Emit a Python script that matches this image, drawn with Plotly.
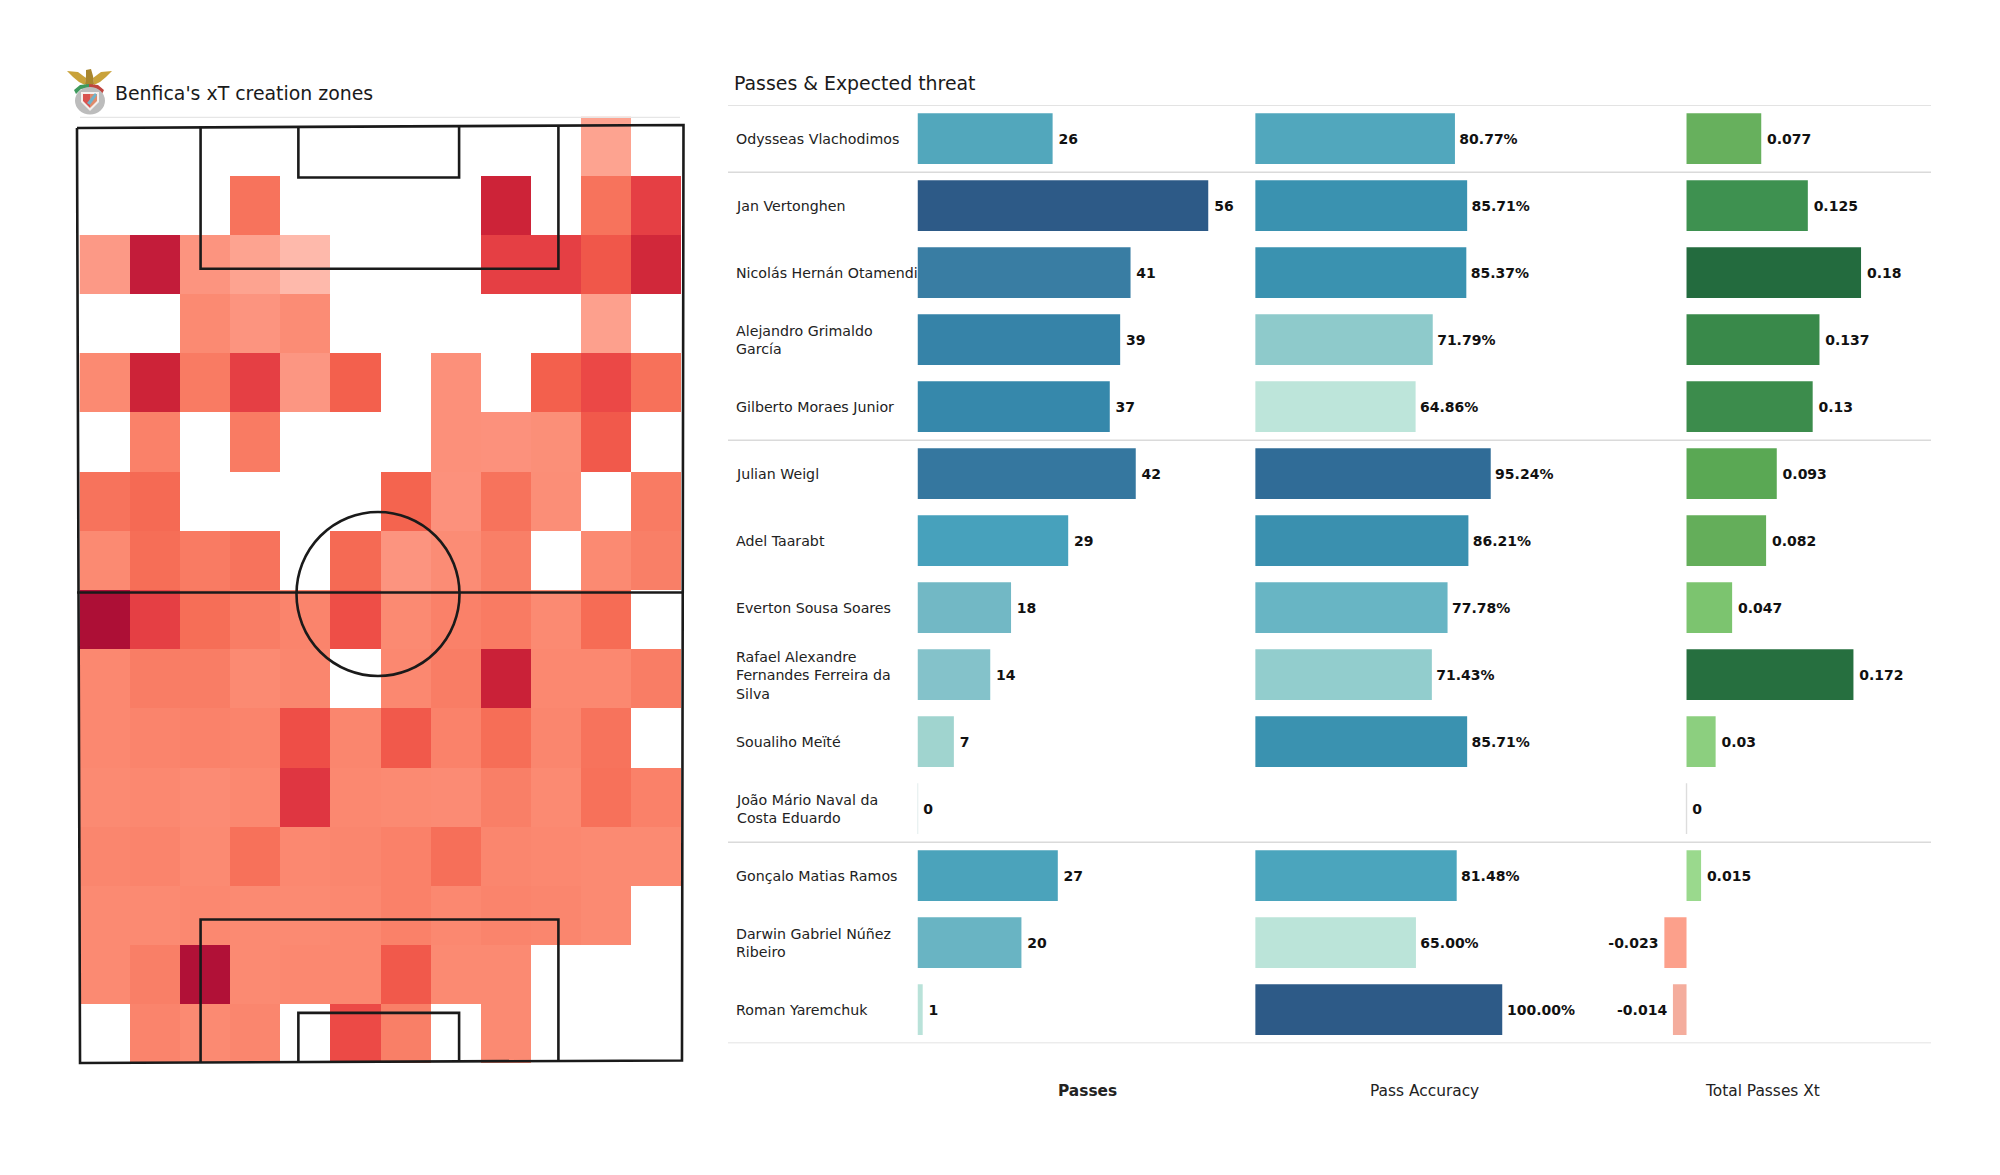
import plotly.graph_objects as go

W, H = 2000, 1175
FONT = "DejaVu Sans"

players = ["Odysseas Vlachodimos", "Jan Vertonghen", "Nicolás Hernán Otamendi", "Alejandro Grimaldo<br>García",
           "Gilberto Moraes Junior", "Julian Weigl", "Adel Taarabt", "Everton Sousa Soares",
           "Rafael Alexandre<br>Fernandes Ferreira da<br>Silva", "Soualiho Meïté",
           "João Mário Naval da<br>Costa Eduardo", "Gonçalo Matias Ramos", "Darwin Gabriel Núñez<br>Ribeiro",
           "Roman Yaremchuk"]
passes = [26, 56, 41, 39, 37, 42, 29, 18, 14, 7, 0, 27, 20, 1]
accuracy = [80.77, 85.71, 85.37, 71.79, 64.86, 95.24, 86.21, 77.78, 71.43, 85.71, None, 81.48, 65.00, 100.00]
xt = [0.077, 0.125, 0.18, 0.137, 0.13, 0.093, 0.082, 0.047, 0.172, 0.03, 0, 0.015, -0.023, -0.014]

passes_colors = ["#52a7bc", "#2d5a87", "#397da3", "#3683a8", "#3688ab", "#35779f", "#47a1bc", "#72b8c5", "#84c2ca",
                 "#a0d4cf", "#c5e8dc", "#4ba3bb", "#69b4c3", "#b9e2d9"]
accuracy_colors = ["#51a7bd", "#3a92b0", "#3a92b0", "#8ecacb", "#bde5da", "#306c97", "#3a90af", "#68b5c4", "#92cdcd",
                   "#3a92b0", "#ffffff", "#4ba5bd", "#bbe4d9", "#2d5a87"]
xt_colors = ["#67b05d", "#3e9150", "#236b3e", "#39894a", "#3c8c4c", "#5aa854", "#64ae5a", "#7cc46f", "#266f3f",
             "#8ccf7f", "#dddddd", "#9ad98d", "#fca08b", "#f4ad9d"]

N = None
heat_rows = [
    [N, N, N, N, N, N, N, N, N, N, .12, N],
    [N, N, N, .42, N, N, N, N, .8, N, .42, .68],
    [.18, .88, .22, .12, 0, N, N, N, .68, .68, .56, .78],
    [N, N, .3, .22, .28, N, N, N, N, N, .14, N],
    [.3, .8, .38, .68, .2, .52, N, .25, N, .52, .63, .43],
    [N, .35, N, .38, N, N, N, .25, .24, .26, .55, N],
    [.42, .47, N, N, N, N, .5, .24, .42, .27, N, .38],
    [.3, .45, .38, .42, N, .47, .22, .28, .36, N, .3, .36],
    [1.0, .68, .45, .37, .33, .6, .3, .35, .38, .3, .46, N],
    [.31, .37, .37, .3, .32, N, .31, .37, .82, .31, .31, .37],
    [.31, .33, .34, .33, .6, .32, .55, .34, .45, .32, .42, N],
    [.3, .31, .29, .31, .72, .31, .3, .29, .36, .3, .43, .35],
    [.32, .33, .3, .43, .31, .32, .35, .44, .32, .31, .3, .3],
    [.3, .3, .31, .3, .3, .31, .35, .31, .33, .32, .3, N],
    [.3, .36, .98, .3, .31, .31, .55, .3, .3, N, N, N],
    [N, .33, .3, .32, N, .62, .36, N, .3, N, N, N],
]
heat_scale = [[0, "#feb9ab"], [.1, "#fda694"], [.2, "#fc9682"], [.3, "#fb8a72"], [.4, "#f8775f"], [.5, "#f4644f"],
              [.6, "#ee4e47"], [.7, "#e33b43"], [.8, "#cd2338"], [.9, "#c01a3a"], [1, "#ad0f36"]]

# pitch lines in pitch units (80 wide, 120 long)
outline_x = [0, 80, 79.8, 0.4, 0]
outline_y = [119.75, 120.13, 0.2, -0.13, 119.75]
box_top_x = [16.3, 16.3, 63.5, 63.5]
box_top_y = [119.9, 101.7, 101.7, 120]
six_top_x = [29.2, 29.2, 50.4, 50.4]
six_top_y = [119.9, 113.4, 113.4, 120]
box_bot_x = [16.3, 16.3, 63.5, 63.5]
box_bot_y = [0, 18.27, 18.27, 0]
six_bot_x = [29.2, 29.2, 50.4, 50.4]
six_bot_y = [0, 6.3, 6.3, 0]
half_x = [0, 80]
half_y = [60.2, 60.2]

def fx(p):
    return p / W

def fy(p):
    return 1 - p / H

fig = go.Figure()

# heat map
fig.add_trace(go.Heatmap(z=heat_rows, x=list(range(12)), y=list(range(16)), colorscale=heat_scale, zmin=0, zmax=1,
                         showscale=False, hoverongaps=False, xaxis="x", yaxis="y"))
fig.update_layout(
    xaxis=dict(domain=[fx(79.5), fx(681)], range=[-.5, 11.5], visible=False),
    yaxis=dict(domain=[fy(1063), fy(116.5)], range=[15.5, -.5], visible=False),
)

# pitch overlay
u = 606.5 / 80
v = 936 / 120
fig.update_layout(
    xaxis5=dict(domain=[fx(77 - u), fx(683.5 + u)], range=[-1, 81], visible=False, anchor="y5"),
    yaxis5=dict(domain=[fy(1062 + v), fy(126 - v)], range=[-1, 121], visible=False, anchor="x5"),
)
for xs, ys in [(outline_x, outline_y), (box_top_x, box_top_y), (six_top_x, six_top_y), (box_bot_x, box_bot_y),
               (six_bot_x, six_bot_y), (half_x, half_y)]:
    fig.add_trace(go.Scatter(x=xs, y=ys, mode="lines", line=dict(color="#1a1a1a", width=2.6), xaxis="x5", yaxis="y5",
                             showlegend=False, hoverinfo="skip"))

# bars
TOP, BOT = 105.2, 1043.2
ydom = [fy(BOT), fy(TOP)]
ypos = list(range(14))
def bar_axes(n, left, right, lo, hi):
    fig.update_layout(**{
        f"xaxis{n}": dict(domain=[fx(left), fx(right)], range=[lo, hi], visible=False, anchor=f"y{n}"),
        f"yaxis{n}": dict(domain=ydom, range=[13.5, -.5], visible=False, anchor=f"x{n}"),
    })

bar_axes(2, 917.5, 1208.5, 0, 56)
bar_axes(3, 1255.2, 1502.5, 0, 100)
bar_axes(4, 1664.2, 1861.2, -0.023, 0.18)

lab = dict(family=FONT, size=14, color="#111111", weight="bold")
GAP = "\u2009"
HAIR = "\u200a"
def add_bars(n, vals, cols, texts):
    fig.add_trace(go.Bar(x=vals, y=ypos, orientation="h", width=0.757, marker=dict(color=cols, line=dict(width=0)),
                         text=texts, textposition="outside", textfont=lab, cliponaxis=False, showlegend=False,
                         xaxis=f"x{n}", yaxis=f"y{n}", hoverinfo="skip"))

add_bars(2, passes, passes_colors, [f"<b>{GAP}{v}</b>" for v in passes])
add_bars(3, accuracy, accuracy_colors, ["" if v is None else f"<b>{HAIR}{v:.2f}%</b>" for v in accuracy])
add_bars(4, xt, xt_colors, [f"<b>{v:g}{GAP}</b>" if v < 0 else f"<b>{GAP}{v:g}</b>" for v in xt])

shapes = []
# separators
for r in [-.5, .5, 4.5, 10.5, 13.5]:
    shapes.append(dict(type="line", xref="paper", yref="y2", x0=fx(728), x1=fx(1931), y0=r, y1=r,
                       line=dict(color="#dadada", width=1.4)))
shapes.append(dict(type="line", xref="paper", yref="paper", x0=fx(80), x1=fx(680), y0=fy(117.3), y1=fy(117.3),
                   line=dict(color="#e6e6e6", width=1.2)))
# zero ticks for João
half = .757 / 2
shapes.append(dict(type="line", xref="x2", yref="y2", x0=0, x1=0, y0=10 - half, y1=10 + half,
                   line=dict(color="#d5e5e5", width=1.4)))
shapes.append(dict(type="line", xref="x4", yref="y4", x0=0, x1=0, y0=10 - half, y1=10 + half,
                   line=dict(color="#dddddd", width=1.4)))
# centre circle
shapes.append(dict(type="circle", xref="paper", yref="paper", x0=fx(296.5), x1=fx(459.5), y0=fy(676), y1=fy(512),
                   line=dict(color="#1a1a1a", width=2.6), layer="above"))

# crest, drawn with vector paths
def P(points):
    return "M" + " L".join(f"{fx(a):.5f},{fy(b):.5f}" for a, b in points) + " Z"
def crest(points, fill):
    shapes.append(dict(type="path", xref="paper", yref="paper", path=P(points), fillcolor=fill, line=dict(width=0)))
crest([(67, 71), (78, 72), (86, 78), (85, 85), (79, 82), (73, 77)], "#c9a23a")
crest([(112, 71), (101, 72), (93, 78), (94, 85), (100, 82), (106, 77)], "#c9a23a")
crest([(86, 70), (91, 69), (93, 76), (94, 84), (89, 89), (85, 84), (86, 76)], "#a8862e")
crest([(74, 90), (80, 85), (89, 84), (89, 88), (81, 89), (76, 94)], "#3f9a5e")
crest([(104, 90), (98, 85), (89, 84), (89, 88), (97, 89), (102, 94)], "#c0453f")
shapes.append(dict(type="circle", xref="paper", yref="paper", x0=fx(75), x1=fx(105), y0=fy(114.5), y1=fy(87),
                   fillcolor="#bcbcbc", line=dict(width=0)))
crest([(81, 92), (99, 92), (99, 102), (90, 111), (81, 102)], "#f4f0ee")
crest([(83, 94), (90, 94), (90, 108), (83, 101)], "#d9534f")
crest([(90, 94), (97, 94), (97, 101), (90, 108)], "#e08a6a")
crest([(87, 103), (95, 93), (97, 95), (90, 105)], "#6fb3c9")

fig.update_layout(shapes=shapes)

# texts
ann = []
for i, p in enumerate(players):
    ann.append(dict(text=p, xref="paper", yref="y2", x=fx(734), y=i + 0.01, xanchor="left", yanchor="middle", align="left",
                    showarrow=False, font=dict(family=FONT, size=14.2, color="#222222")))
ann.append(dict(text="Benfica's xT creation zones", xref="paper", yref="paper", x=fx(112.8), y=fy(93), xanchor="left",
                yanchor="middle", showarrow=False, font=dict(family=FONT, size=18.9, color="#1a1a1a")))
ann.append(dict(text="Passes & Expected threat", xref="paper", yref="paper", x=fx(732), y=fy(83), xanchor="left",
                yanchor="middle", showarrow=False, font=dict(family=FONT, size=18.9, color="#1a1a1a")))
for cx, t, bold in [(1087, "Passes", True), (1424, "Pass Accuracy", False), (1762, "Total Passes Xt", False)]:
    ann.append(dict(text=f"<b>{t}</b>" if bold else t, xref="paper", yref="paper", x=fx(cx), y=fy(1091), xanchor="center",
                    yanchor="middle", showarrow=False, font=dict(family=FONT, size=15.4, color="#222222")))

fig.update_layout(width=W, height=H, margin=dict(l=0, r=0, t=0, b=0), paper_bgcolor="white", plot_bgcolor="rgba(0,0,0,0)",
                  annotations=ann, barmode="overlay", showlegend=False, font=dict(family=FONT))

fig.write_html("out.html", post_script="document.body.style.margin='0';", config={"displayModeBar": False})
